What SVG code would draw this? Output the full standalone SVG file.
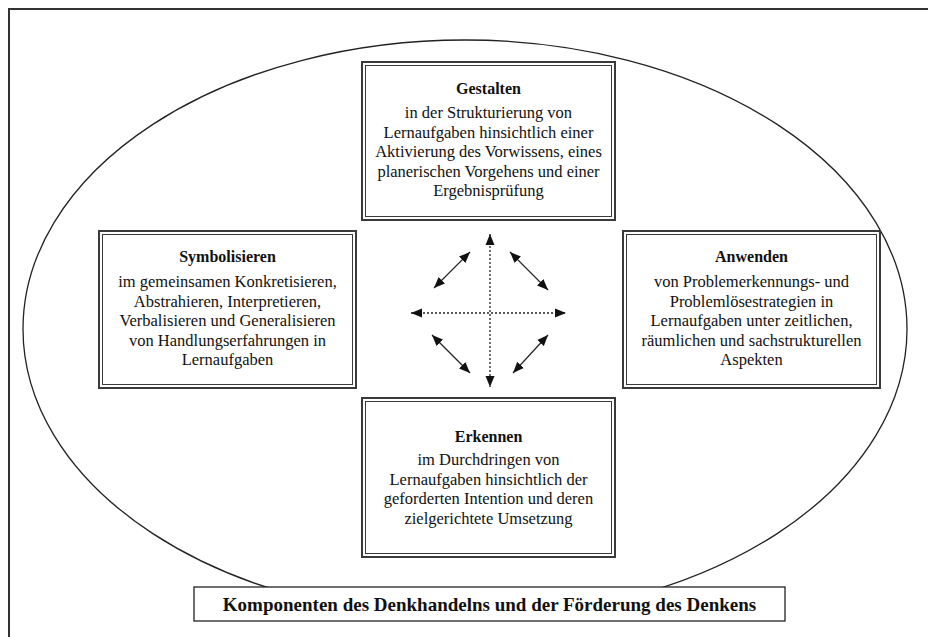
<svg xmlns="http://www.w3.org/2000/svg" width="928" height="637" viewBox="0 0 928 637">
<defs>
<style>
.frame{stroke:#333;stroke-width:2;fill:none}
.ell{fill:none;stroke:#222;stroke-width:1.3}
.outer{fill:#fff;stroke:#3a3a3a;stroke-width:2}
.inner{fill:none;stroke:#3a3a3a;stroke-width:1}
.t{font-family:"Liberation Serif","Times New Roman",serif;font-size:16.5px;fill:#111;text-anchor:middle}
.h{font-weight:bold;font-size:16px}
.dot{stroke:#222;stroke-width:1.3;stroke-dasharray:2 2;fill:none}
.sol{stroke:#222;stroke-width:1.2;fill:none}
.arr{marker-start:url(#ah);marker-end:url(#ah)}
.cap{fill:#fff;stroke:#222;stroke-width:1.3}
.capt{font-family:"Liberation Serif","Times New Roman",serif;font-size:19px;font-weight:bold;fill:#111;text-anchor:middle}
</style>
<marker id="ah" markerUnits="userSpaceOnUse" markerWidth="12" markerHeight="10" refX="11" refY="4.5" orient="auto-start-reverse" viewBox="0 0 12 9">
<path d="M0,0 L11,4.5 L0,9 z" fill="#111"/>
</marker>
</defs>
<g id="frame">
<line class="frame" x1="8" y1="9" x2="928" y2="9"/>
<line class="frame" x1="9" y1="8" x2="9" y2="637"/>
</g>
<g id="ellipse">
<ellipse class="ell" cx="465" cy="329" rx="442" ry="289"/>
</g>
<g id="connectors">
<line class="dot arr" x1="490" y1="234" x2="490" y2="387"/>
<line class="dot arr" x1="411" y1="313" x2="566" y2="313"/>
<line class="sol arr" x1="434" y1="288" x2="470" y2="252"/>
<line class="sol arr" x1="510" y1="252" x2="548" y2="290"/>
<line class="sol arr" x1="432" y1="335" x2="470" y2="373"/>
<line class="sol arr" x1="513" y1="373" x2="548" y2="335"/>
</g>
<g id="gestalten">
<rect class="outer" x="362" y="62" width="253" height="158"/>
<rect class="inner" x="365.5" y="65.5" width="246" height="151"/>
<text class="t h" x="488.5" y="94">Gestalten</text>
<text class="t" x="488.5" y="118">in der Strukturierung von</text>
<text class="t" x="488.5" y="137.5">Lernaufgaben hinsichtlich einer</text>
<text class="t" x="488.5" y="157">Aktivierung des Vorwissens, eines</text>
<text class="t" x="488.5" y="176.5">planerischen Vorgehens und einer</text>
<text class="t" x="488.5" y="196">Ergebnisprüfung</text>
</g>
<g id="symbolisieren">
<rect class="outer" x="99" y="231" width="257" height="157"/>
<rect class="inner" x="102.5" y="234.5" width="250" height="150"/>
<text class="t h" x="227.5" y="262">Symbolisieren</text>
<text class="t" x="227.5" y="287">im gemeinsamen Konkretisieren,</text>
<text class="t" x="227.5" y="306.5">Abstrahieren, Interpretieren,</text>
<text class="t" x="227.5" y="326">Verbalisieren und Generalisieren</text>
<text class="t" x="227.5" y="345.5">von Handlungserfahrungen in</text>
<text class="t" x="227.5" y="365">Lernaufgaben</text>
</g>
<g id="anwenden">
<rect class="outer" x="623" y="231" width="257" height="157"/>
<rect class="inner" x="626.5" y="234.5" width="250" height="150"/>
<text class="t h" x="751.5" y="262">Anwenden</text>
<text class="t" x="751.5" y="287">von Problemerkennungs- und</text>
<text class="t" x="751.5" y="306.5">Problemlösestrategien in</text>
<text class="t" x="751.5" y="326">Lernaufgaben unter zeitlichen,</text>
<text class="t" x="751.5" y="345.5">räumlichen und sachstrukturellen</text>
<text class="t" x="751.5" y="365">Aspekten</text>
</g>
<g id="erkennen">
<rect class="outer" x="362" y="398" width="253" height="159"/>
<rect class="inner" x="365.5" y="401.5" width="246" height="152"/>
<text class="t h" x="488.5" y="442">Erkennen</text>
<text class="t" x="488.5" y="465">im Durchdringen von</text>
<text class="t" x="488.5" y="484.5">Lernaufgaben hinsichtlich der</text>
<text class="t" x="488.5" y="504">geforderten Intention und deren</text>
<text class="t" x="488.5" y="523.5">zielgerichtete Umsetzung</text>
</g>
<g id="caption">
<rect class="cap" x="194" y="587" width="591" height="34"/>
<text class="capt" x="489.5" y="611">Komponenten des Denkhandelns und der Förderung des Denkens</text>
</g>
</svg>
